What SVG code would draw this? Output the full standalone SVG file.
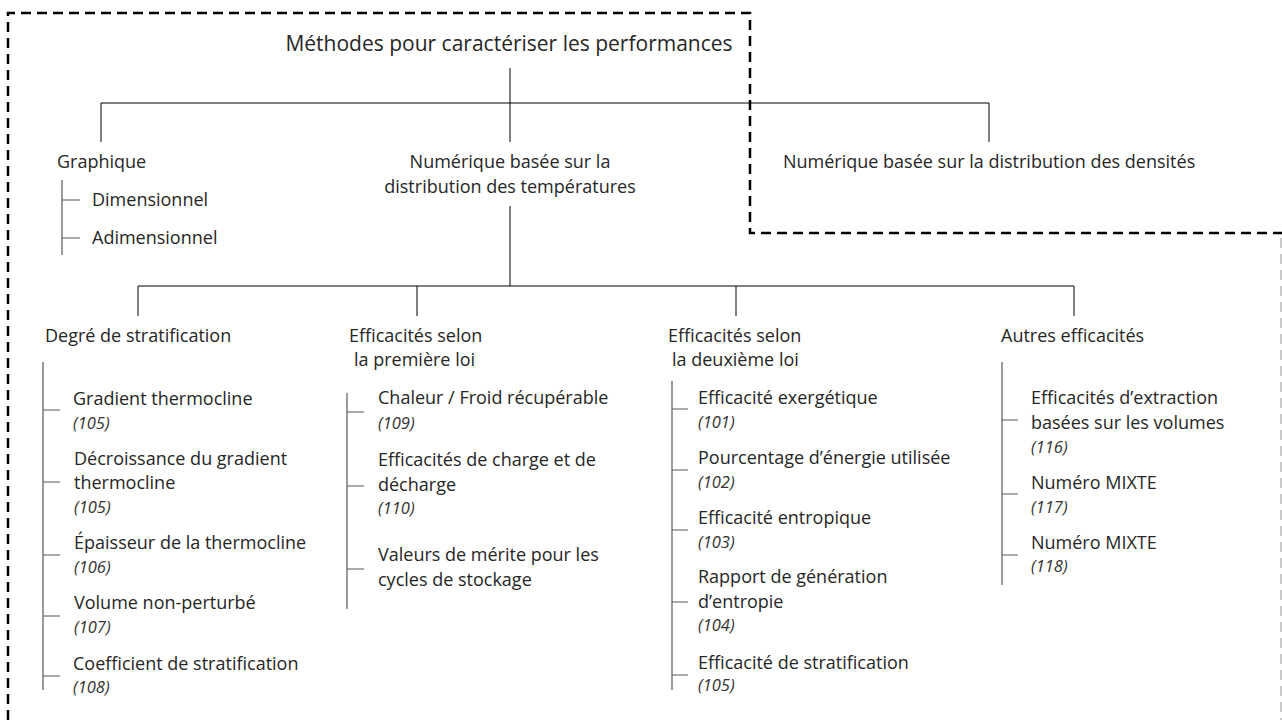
<svg xmlns="http://www.w3.org/2000/svg" width="1282" height="720" viewBox="0 0 1282 720">
<style>
text{font-family:"Open Sans","Liberation Sans",sans-serif;font-size:18px;fill:#262626}
.t{font-size:21px}
.i{font-style:italic;font-size:16.5px;fill:#333}
.it{font-size:18px}
.m{stroke:#000;stroke-width:1;fill:none}
.s{stroke:#595959;stroke-width:1.2;fill:none}
.b{stroke:#000;stroke-width:2.5;stroke-dasharray:10 6;fill:none}
.g{stroke:#a6a6a6;stroke-width:1.2;stroke-dasharray:10 6;fill:none}
</style>
<rect width="1282" height="720" fill="#fff"/>
<g id="frame">
<path class="b" d="M8,720 V13 H750 V233 H1282"/>
<path class="g" d="M1281,238 V720"/>
</g>
<g id="connectors">
<path class="m" d="M510,68 V142 M101,103 H989 M101,103 V142 M989,103 V142"/>
<path class="m" d="M510,206 V286 M138,286 H1074 M138,286 V316 M417,286 V316 M736,286 V316 M1074,286 V316"/>
<path class="s" d="M62,180 V255 M62,200 H80 M62,238 H80"/>
<path class="s" d="M43,362 V690 M43,410 H60 M43,482 H60 M43,555 H60 M43,616 H60 M43,676 H60"/>
<path class="s" d="M347,393 V609 M347,412 H364 M347,486 H364 M347,569 H364"/>
<path class="s" d="M672,381 V690 M672,409 H688 M672,470 H688 M672,530 H688 M672,602 H688 M672,675 H688"/>
<path class="s" d="M1002,362 V585 M1002,420 H1018 M1002,494 H1018 M1002,555 H1018"/>
</g>
<g id="root"><text class="t" x="509" y="51" text-anchor="middle">Méthodes pour caractériser les performances</text></g>
<g id="graphique"><text x="57" y="168">Graphique</text></g>
<g id="dimensionnel"><text x="92" y="206">Dimensionnel</text></g>
<g id="adimensionnel"><text x="92" y="244">Adimensionnel</text></g>
<g id="num-temp"><text x="510" y="168" text-anchor="middle">Numérique basée sur la</text><text x="510" y="193" text-anchor="middle">distribution des températures</text></g>
<g id="num-dens"><text x="783" y="168">Numérique basée sur la distribution des densités</text></g>
<g id="degre"><text x="45" y="342">Degré de stratification</text></g>
<g id="premiere"><text x="349" y="342">Efficacités selon</text><text x="354" y="366">la première loi</text></g>
<g id="deuxieme"><text x="668" y="342">Efficacités selon</text><text x="672" y="366">la deuxième loi</text></g>
<g id="autres"><text x="1001" y="342">Autres efficacités</text></g>
<g id="c1-1"><text class="it" x="73" y="405">Gradient thermocline</text><text class="i" x="73" y="429">(105)</text></g>
<g id="c1-2"><text class="it" x="74" y="465">Décroissance du gradient</text><text class="it" x="74" y="489">thermocline</text><text class="i" x="74" y="513">(105)</text></g>
<g id="c1-3"><text class="it" x="74" y="549">Épaisseur de la thermocline</text><text class="i" x="74" y="573">(106)</text></g>
<g id="c1-4"><text class="it" x="74" y="609">Volume non-perturbé</text><text class="i" x="74" y="633">(107)</text></g>
<g id="c1-5"><text class="it" x="73" y="670">Coefficient de stratification</text><text class="i" x="73" y="693">(108)</text></g>
<g id="c2-1"><text class="it" x="378" y="404">Chaleur / Froid récupérable</text><text class="i" x="378" y="429">(109)</text></g>
<g id="c2-2"><text class="it" x="378" y="466">Efficacités de charge et de</text><text class="it" x="378" y="491">décharge</text><text class="i" x="378" y="514">(110)</text></g>
<g id="c2-3"><text class="it" x="378" y="561">Valeurs de mérite pour les</text><text class="it" x="378" y="586">cycles de stockage</text></g>
<g id="c3-1"><text class="it" x="698" y="404">Efficacité exergétique</text><text class="i" x="698" y="428">(101)</text></g>
<g id="c3-2"><text class="it" x="698" y="464">Pourcentage d’énergie utilisée</text><text class="i" x="698" y="488">(102)</text></g>
<g id="c3-3"><text class="it" x="698" y="524">Efficacité entropique</text><text class="i" x="698" y="548">(103)</text></g>
<g id="c3-4"><text class="it" x="698" y="583">Rapport de génération</text><text class="it" x="698" y="608">d’entropie</text><text class="i" x="698" y="631">(104)</text></g>
<g id="c3-5"><text class="it" x="698" y="669">Efficacité de stratification</text><text class="i" x="698" y="691">(105)</text></g>
<g id="c4-1"><text class="it" x="1031" y="404">Efficacités d’extraction</text><text class="it" x="1031" y="429">basées sur les volumes</text><text class="i" x="1031" y="453">(116)</text></g>
<g id="c4-2"><text class="it" x="1031" y="489">Numéro MIXTE</text><text class="i" x="1031" y="513">(117)</text></g>
<g id="c4-3"><text class="it" x="1031" y="549">Numéro MIXTE</text><text class="i" x="1031" y="572">(118)</text></g>
</svg>
